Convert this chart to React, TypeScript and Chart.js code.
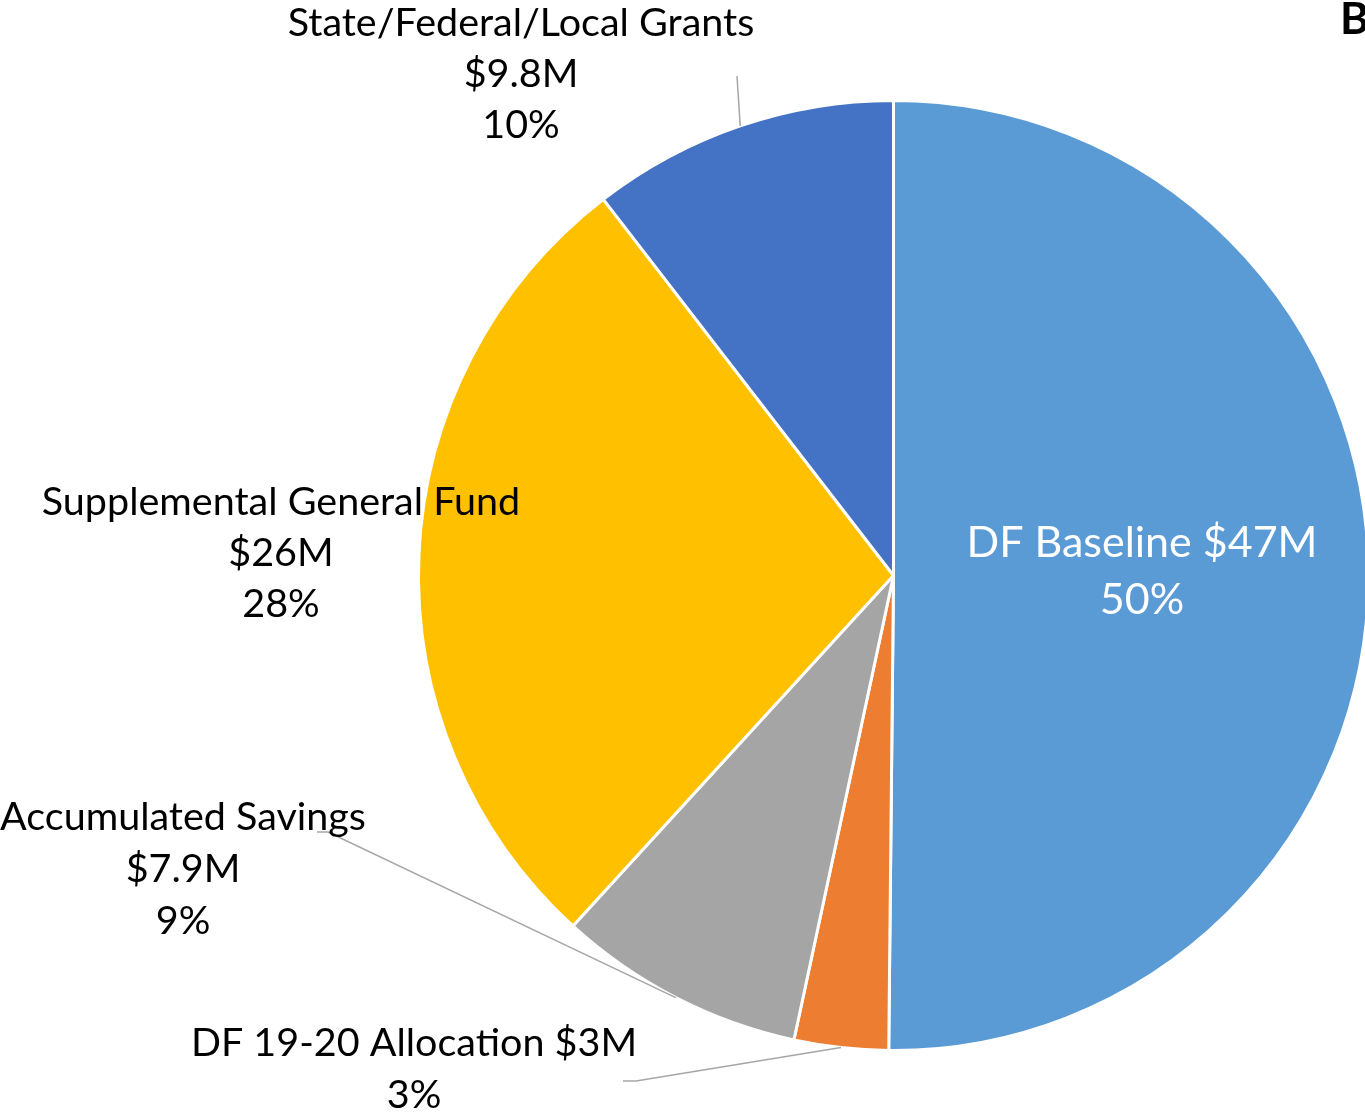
import React, { useEffect, useRef } from "react";
import { Chart, registerables } from "chart.js";

Chart.register(...registerables);

const categories = [
  "DF Baseline",
  "DF 19-20 Allocation",
  "Accumulated Savings",
  "Supplemental General Fund",
  "State/Federal/Local Grants",
];
const values = [47, 3, 7.9, 26, 9.8];
const valueLabels = ["$47M", "$3M", "$7.9M", "$26M", "$9.8M"];
const percentLabels = ["50%", "3%", "9%", "28%", "10%"];
const colors = ["#5B9BD5", "#ED7D31", "#A5A5A5", "#FFC000", "#4472C4"];

const FONT = "Lato, 'Open Sans', sans-serif";

// text layout for each label: lines, center x, first baseline, line step, leader anchor
const labelLayout = [
  { lines: [`${categories[0]} ${valueLabels[0]}`, percentLabels[0]], x: 1142, y: 557, step: 57, size: 43, color: "#FFFFFF", leader: null },
  { lines: [`${categories[1]} ${valueLabels[1]}`, percentLabels[1]], x: 414, y: 1056, step: 52, size: 39.5, color: "#000000", leader: [[623, 1081], [636, 1081]] },
  { lines: [categories[2], valueLabels[2], percentLabels[2]], x: 183, y: 830, step: 52, size: 39.5, color: "#000000", leader: [[317, 832], [328, 832]] },
  { lines: [categories[3], valueLabels[3], percentLabels[3]], x: 281, y: 515, step: 51, size: 39.5, color: "#000000", leader: null },
  { lines: [categories[4], valueLabels[4], percentLabels[4]], x: 521, y: 36, step: 51, size: 39.5, color: "#000000", leader: [[737, 76]] },
];

const labelPlugin = {
  id: "pieLabels",
  afterDatasetsDraw(chart: any) {
    const ctx = chart.ctx;
    const meta = chart.getDatasetMeta(0);
    ctx.save();
    meta.data.forEach((arc: any, i: number) => {
      const L = labelLayout[i];
      const p = arc.getProps(["x", "y", "startAngle", "endAngle", "outerRadius"], true);
      if (L.leader) {
        const mid = (p.startAngle + p.endAngle) / 2;
        const ex = p.x + Math.cos(mid) * p.outerRadius;
        const ey = p.y + Math.sin(mid) * p.outerRadius;
        ctx.beginPath();
        ctx.strokeStyle = "#A6A6A6";
        ctx.lineWidth = 1.5;
        ctx.moveTo(L.leader[0][0], L.leader[0][1]);
        for (let k = 1; k < L.leader.length; k++) ctx.lineTo(L.leader[k][0], L.leader[k][1]);
        ctx.lineTo(ex, ey);
        ctx.stroke();
      }
      ctx.fillStyle = L.color;
      ctx.font = `${L.size}px ${FONT}`;
      ctx.textAlign = "center";
      ctx.textBaseline = "alphabetic";
      L.lines.forEach((t, k) => ctx.fillText(t, L.x, L.y + k * L.step));
    });
    ctx.fillStyle = "#000000";
    ctx.font = `bold 44px ${FONT}`;
    ctx.textAlign = "left";
    ctx.fillText("B", 1340, 34);
    ctx.restore();
  },
};

export default function App() {
  const ref = useRef<HTMLCanvasElement>(null);
  useEffect(() => {
    if (!ref.current) return;
    const chart = new Chart(ref.current, {
      type: "pie",
      data: {
        labels: categories,
        datasets: [
          {
            data: values,
            backgroundColor: colors,
            borderColor: "#FFFFFF",
            borderWidth: 3,
          },
        ],
      },
      options: {
        responsive: false,
        animation: false,
        layout: { padding: { left: 417, right: 0, top: 99, bottom: 64 } },
        plugins: {
          legend: { display: false },
          tooltip: { enabled: false },
          title: { display: false },
        },
      },
      plugins: [labelPlugin],
    });
    return () => chart.destroy();
  }, []);
  return (
    <div
      style={{
        position: "absolute",
        left: 0,
        top: 0,
        width: 1365,
        height: 1116,
        overflow: "hidden",
        background: "#FFFFFF",
      }}
    >
      <canvas
        ref={ref}
        width={1370}
        height={1116}
        style={{ display: "block", width: 1370, height: 1116 }}
      />
    </div>
  );
}
